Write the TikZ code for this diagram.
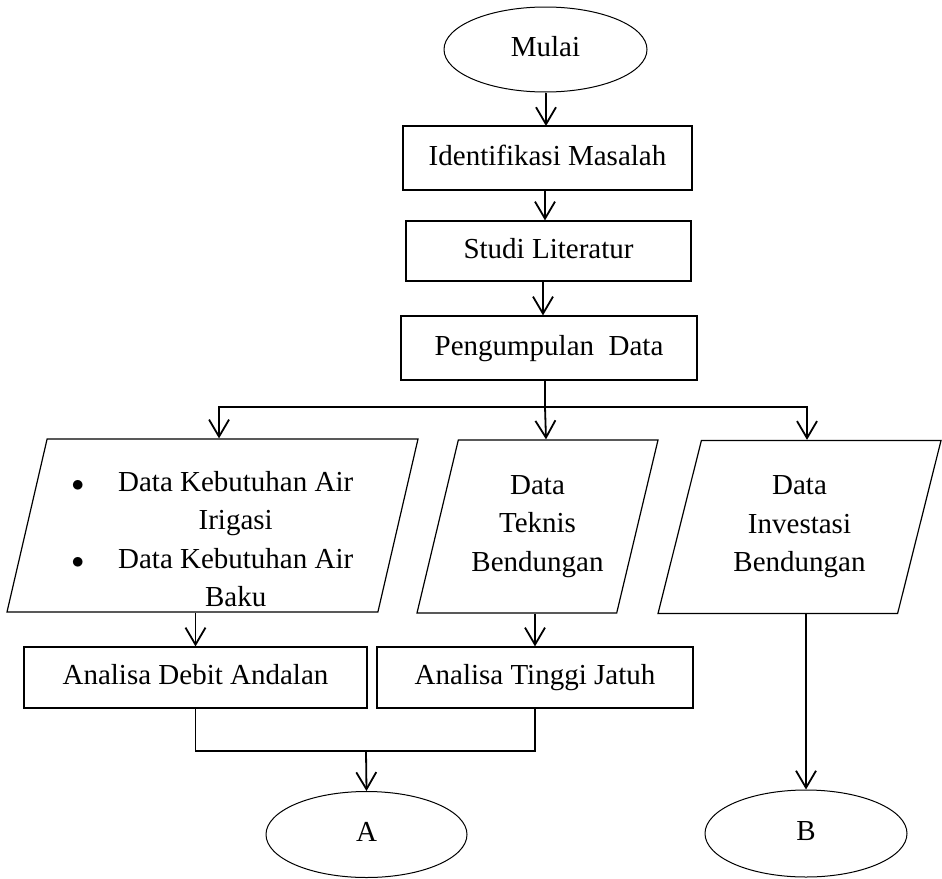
\documentclass[tikz,border=0pt]{standalone}
\usepackage{fontspec}
\setmainfont{Liberation Serif}
\usetikzlibrary{shapes.geometric,arrows.meta}

\begin{document}
\begin{tikzpicture}[x=1pt,y=-1pt,
    font=\fontsize{29pt}{38.5pt}\selectfont,
    proses/.style={draw, line width=1.2pt, rectangle, inner sep=0pt, minimum height=62pt,
        text height=20pt, text depth=6pt},
    terminal/.style={draw, line width=1pt, ellipse, inner sep=0pt, minimum width=202pt, minimum height=86pt,
        text height=20pt, text depth=6pt},
    datain/.style={draw, line width=1.2pt, trapezium, trapezium left angle=#1,
        trapezium right angle=180-#1, trapezium stretches body, inner sep=0pt,
        minimum height=173pt, align=center},
    garis/.style={line width=1.8pt},
    panah/.style={line width=1.8pt, -{Straight Barb[length=17pt,width=20pt]}}]
    \useasboundingbox (0,0) rectangle (942,878);

    % Start node
    \node[terminal, minimum width=203pt, minimum height=85pt] (mulai) at (545.5,49.5) {Mulai};

    % Main process nodes
    \node[proses, minimum width=289pt, minimum height=64pt] (ident) at (547.5,158) {Identifikasi Masalah};
    \node[proses, minimum width=285pt, minimum height=60pt] (studi) at (548.5,251) {Studi Literatur};
    \node[proses, minimum width=296pt, minimum height=64pt] (kumpul) at (549,348) {Pengumpulan\ \ Data};

    % Edges
    \draw[panah] (mulai.south -| 546,0) -- (546,126);
    \draw[panah] (ident.south -| 545,0) -- (studi.north -| 545,0);
    \draw[panah] (studi.south -| 543,0) -- (kumpul.north -| 543,0);

    % Data nodes
    \node[datain=75.4, minimum width=411pt] (dkeb) at (212.5,525.5) {\raisebox{0pt}[\dimexpr\height+16pt\relax][\dimexpr\depth-16pt\relax]{%
        \begin{tabular}{@{}c@{\hspace{34pt}}c@{}}
        $\bullet$ & Data Kebutuhan Air\\
         & Irigasi\\
        $\bullet$ & Data Kebutuhan Air\\
         & Baku
        \end{tabular}}};
    \node[datain=68, minimum width=241pt] (dtek) at (537.5,526.5) {Data\\Teknis\\Bendungan};
    \node[datain=67, minimum width=283pt] (dinv) at (799.5,527) {Data\\Investasi\\Bendungan};

    % Edges
    \coordinate (cabang) at (545,407);
    \draw[garis] (kumpul.south -| cabang) -- (cabang);
    \draw[panah] (cabang) -| ([xshift=6.5pt]dkeb.north);
    \draw[panah] (cabang) -- ([xshift=8.5pt]dtek.north);
    \draw[panah] (cabang) -| ([xshift=7.5pt]dinv.north);

    % Analysis nodes
    \node[proses, minimum width=343pt, minimum height=61pt] (debit) at (195.5,677.5) {Analisa Debit Andalan};
    \node[proses, minimum width=316pt, minimum height=61pt] (tinggi) at (535,677.5) {Analisa Tinggi Jatuh};

    % Edges
    \draw[panah] (debit.north |- dkeb.south) -- (debit.north);
    \draw[panah] (tinggi.north |- dtek.south) -- (tinggi.north);

    % Connector nodes
    \node[terminal, minimum width=201pt] (endA) at (366.5,834.5) {A};
    \node[terminal, minimum height=87pt] (endB) at (806,833.5) {B};

    % Edges
    \coordinate (gabung) at (366,751);
    \draw[line width=1.3pt] (debit.south) |- (gabung) -| (tinggi.south);
    \draw[panah] (gabung) -- (endA.north);
    \draw[panah] (endB.north |- dinv.south) -- (endB.north);
\end{tikzpicture}
\end{document}
